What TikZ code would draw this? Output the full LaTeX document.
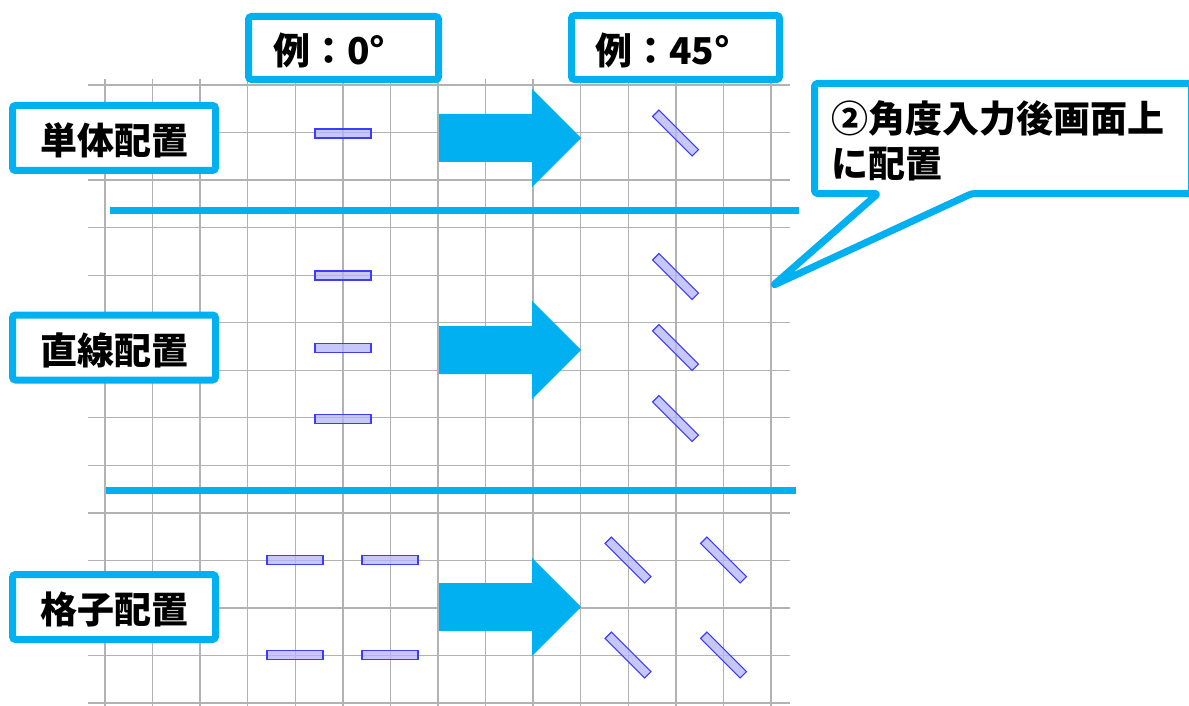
\documentclass[tikz,border=0pt]{standalone}
\usepackage{fontspec}
\newfontfamily\jp{Noto Sans CJK JP}
\definecolor{sky}{HTML}{00B0F0}
\definecolor{gridc}{RGB}{178,178,178}
\definecolor{barfill}{RGB}{180,180,248}
\definecolor{barline}{RGB}{60,60,255}
\begin{document}
\begin{tikzpicture}[x=1pt,y=-1pt,
  gridline/.style={draw=gridc, line width=1.3pt},
  sepline/.style={draw=sky, line width=7pt},
  box/.style={draw=sky, line width=7pt, fill=white, rounded corners=3pt, inner sep=0pt, outer sep=0pt},
  lbl/.style={font=\jp\bfseries\fontsize{37}{45}\selectfont, inner sep=0pt, outer sep=0pt},
  bar/.style={draw=barline, line width=1.2pt, fill=barfill, fill opacity=0.75, minimum width=56pt, minimum height=9pt, inner sep=0pt, outer sep=0pt},
  bigarrow/.style={fill=sky}
]
\useasboundingbox (0,0) rectangle (1189,706);
\clip (0,0) rectangle (1189,706);
% grid
\foreach \i in {0,...,14} {
  \draw[gridline] ({105+47.571*\i},79) -- ({105+47.571*\i},710);
}
\foreach \j in {0,...,13} {
  \draw[gridline] (88,{85+47.54*\j}) -- (790,{85+47.54*\j});
}
% separators
\coordinate (s1a) at (110,210); \coordinate (s1b) at (799,210);
\coordinate (s2a) at (106,490); \coordinate (s2b) at (796,490);
\draw[sepline] (s1a) -- (s1b);
\draw[sepline] (s2a) -- (s2b);
% bars 0 degrees
\node[bar] (h1) at (343,133.5) {};
\node[bar] (h2) at (343,275.5) {};
\node[bar] (h3) at (343,348) {};
\node[bar] (h4) at (343,419) {};
\node[bar] (h5) at (295,560) {};
\node[bar] (h6) at (390,560) {};
\node[bar] (h7) at (295,655) {};
\node[bar] (h8) at (390,655) {};
% bars 45 degrees
\node[bar, rotate=-45] (r1) at (675.5,133) {};
\node[bar, rotate=-45] (r2) at (675.5,276.5) {};
\node[bar, rotate=-45] (r3) at (675.5,347.5) {};
\node[bar, rotate=-45] (r4) at (675.5,418.5) {};
\node[bar, rotate=-45] (r5) at (628,560) {};
\node[bar, rotate=-45] (r6) at (723.5,560) {};
\node[bar, rotate=-45] (r7) at (628,655) {};
\node[bar, rotate=-45] (r8) at (723.5,655) {};
% block arrows
\foreach \cy in {138,350,607} {
  \fill[bigarrow] (439,\cy-24) -- (532,\cy-24) -- (532,\cy-49) -- (581,\cy) -- (532,\cy+49) -- (532,\cy+24) -- (439,\cy+24) -- cycle;
}
% header boxes
\node[box, minimum width=190pt, minimum height=63pt] (e0) at (343.5,48) {};
\node[lbl, anchor=west] (e0t) at (273,50.5) {例：0°};
\node[box, minimum width=208pt, minimum height=64pt] (e45) at (675.5,47.5) {};
\node[lbl, anchor=west] (e45t) at (595,50.5) {例：45°};
% row labels
\node[box, minimum width=203pt, minimum height=65pt] (b1) at (114,138) {};
\node[lbl] (b1t) at (114.5,140.5) {単体配置};
\node[box, minimum width=203pt, minimum height=65pt] (b2) at (114,347.5) {};
\node[lbl] (b2t) at (114.5,350) {直線配置};
\node[box, minimum width=203pt, minimum height=65pt] (b3) at (114,607) {};
\node[lbl] (b3t) at (114.5,609.5) {格子配置};
% callout
\coordinate (tip) at (773,285.5);
\draw[sky, line width=7pt, fill=white, line join=round, rounded corners=3pt]
  (878,193.5) -- (814.5,193.5) -- (814.5,83.5) -- (1191.5,83.5) -- (1191.5,193.5) -- (972,193.5) -- (tip) -- cycle;
\node[lbl, anchor=west, align=left] (c1) at (831,141) {②角度入力後画面上\\に配置};
\end{tikzpicture}
\end{document}
